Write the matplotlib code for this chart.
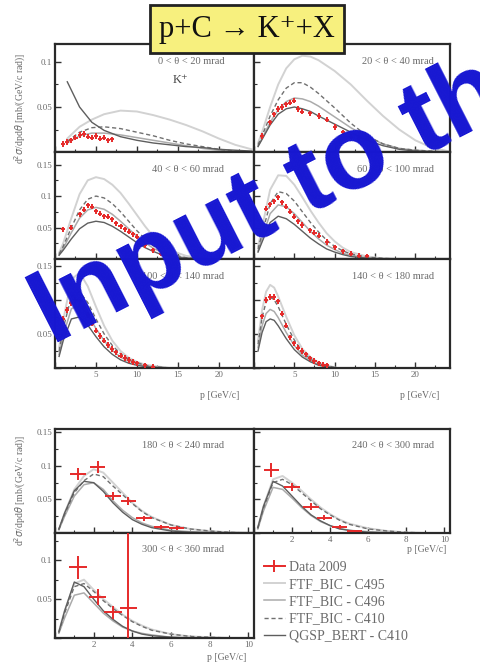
"""
p+C -> K+ + X : momentum spectra in angular bins, data vs. models.
"""
import numpy as np
import matplotlib
matplotlib.use('Agg')
import matplotlib.pyplot as plt
from matplotlib.lines import Line2D
from matplotlib.ticker import MultipleLocator

plt.rcParams['font.family'] = ['Liberation Serif', 'DejaVu Serif']

# ---------------- data ----------------
labels = ['0 < \u03b8 < 20 mrad', '20 < \u03b8 < 40 mrad', '40 < \u03b8 < 60 mrad',
          '60 < \u03b8 < 100 mrad', '100 < \u03b8 < 140 mrad', '140 < \u03b8 < 180 mrad',
          '180 < \u03b8 < 240 mrad', '240 < \u03b8 < 300 mrad', '300 < \u03b8 < 360 mrad']
models = ['FTF_BIC - C495', 'FTF_BIC - C496', 'FTF_BIC - C410', 'QGSP_BERT - C410']

# 0-20 mrad
p1 = [1.5, 3, 4.5, 6, 8, 10, 12, 14, 16, 18, 20, 22, 24]
c495_1 = [0.015, 0.028, 0.036, 0.042, 0.046, 0.045, 0.041, 0.036, 0.030, 0.023, 0.015, 0.008, 0.003]
c496_1 = [0.010, 0.018, 0.021, 0.021, 0.019, 0.016, 0.013, 0.010, 0.007, 0.004, 0.002, 0.001, 0.0]
c410_1 = [0.012, 0.022, 0.027, 0.028, 0.026, 0.022, 0.018, 0.013, 0.009, 0.006, 0.003, 0.001, 0.0]
qgsp_1 = [0.078, 0.050, 0.033, 0.024, 0.017, 0.013, 0.010, 0.008, 0.006, 0.005, 0.003, 0.002, 0.001]
dx1 = [1, 1.5, 2, 2.5, 3, 3.5, 4, 4.5, 5, 5.5, 6, 6.5, 7]
dy1 = [0.009, 0.011, 0.013, 0.016, 0.019, 0.020, 0.017, 0.016, 0.018, 0.015, 0.016, 0.013, 0.014]

# 20-40 mrad
p2 = [0.5, 1, 2, 3, 4, 5, 6, 7, 8, 10, 12, 14, 16, 18, 20, 22, 24]
c495_2 = [0.010, 0.022, 0.050, 0.075, 0.093, 0.103, 0.107, 0.106, 0.102, 0.090, 0.075, 0.057, 0.040, 0.025, 0.013, 0.005, 0.001]
c496_2 = [0.007, 0.015, 0.033, 0.047, 0.056, 0.060, 0.059, 0.056, 0.051, 0.039, 0.027, 0.017, 0.009, 0.004, 0.002, 0.001, 0.0]
c410_2 = [0.008, 0.018, 0.040, 0.058, 0.071, 0.077, 0.077, 0.072, 0.065, 0.049, 0.032, 0.018, 0.009, 0.004, 0.002, 0.001, 0.0]
qgsp_2 = [0.006, 0.014, 0.030, 0.042, 0.048, 0.050, 0.048, 0.045, 0.040, 0.031, 0.022, 0.013, 0.007, 0.003, 0.001, 0.0, 0.0]
dx2 = [1, 2, 2.5, 3, 3.5, 4, 4.5, 5, 5.5, 6, 7, 8, 9, 10, 11, 12, 13, 14]
dy2 = [0.018, 0.033, 0.042, 0.048, 0.050, 0.053, 0.055, 0.057, 0.048, 0.045, 0.043, 0.040, 0.036, 0.028, 0.022, 0.017, 0.016, 0.015]

# 40-60 mrad
p3 = [0.5, 1, 2, 3, 4, 5, 6, 7, 8, 9, 10, 11, 12, 13, 14, 16, 18, 20]
c495_3 = [0.010, 0.025, 0.065, 0.103, 0.125, 0.130, 0.127, 0.118, 0.105, 0.088, 0.070, 0.052, 0.036, 0.023, 0.014, 0.005, 0.001, 0.0]
c496_3 = [0.007, 0.017, 0.042, 0.065, 0.078, 0.082, 0.079, 0.071, 0.060, 0.048, 0.036, 0.026, 0.017, 0.011, 0.006, 0.002, 0.0, 0.0]
c410_3 = [0.008, 0.020, 0.050, 0.078, 0.095, 0.100, 0.097, 0.088, 0.075, 0.060, 0.045, 0.032, 0.021, 0.013, 0.008, 0.002, 0.0, 0.0]
qgsp_3 = [0.006, 0.014, 0.032, 0.048, 0.057, 0.060, 0.058, 0.052, 0.044, 0.035, 0.026, 0.018, 0.012, 0.007, 0.004, 0.001, 0.0, 0.0]
dx3 = [1, 2, 3, 3.5, 4, 4.5, 5, 5.5, 6, 6.5, 7, 7.5, 8, 8.5, 9, 9.5, 10, 11, 12, 13, 14]
dy3 = [0.047, 0.050, 0.071, 0.078, 0.085, 0.083, 0.076, 0.072, 0.068, 0.067, 0.063, 0.057, 0.052, 0.047, 0.043, 0.039, 0.035, 0.022, 0.014, 0.008, 0.004]

# 60-100 mrad
p4 = [0.5, 1, 2, 3, 4, 5, 6, 7, 8, 9, 10, 11, 12, 14, 16, 18]
c495_4 = [0.020, 0.050, 0.110, 0.133, 0.132, 0.118, 0.098, 0.077, 0.058, 0.041, 0.028, 0.018, 0.011, 0.004, 0.001, 0.0]
c496_4 = [0.013, 0.033, 0.072, 0.086, 0.083, 0.072, 0.058, 0.044, 0.032, 0.022, 0.015, 0.009, 0.006, 0.002, 0.0, 0.0]
c410_4 = [0.016, 0.040, 0.088, 0.107, 0.104, 0.092, 0.075, 0.058, 0.043, 0.030, 0.020, 0.013, 0.008, 0.003, 0.001, 0.0]
qgsp_4 = [0.011, 0.027, 0.058, 0.068, 0.064, 0.055, 0.044, 0.033, 0.024, 0.016, 0.011, 0.007, 0.004, 0.001, 0.0, 0.0]
dx4 = [1.5, 2, 2.5, 3, 3.5, 4, 4.5, 5, 5.5, 6, 7, 7.5, 8, 9, 10, 11, 12, 13, 14]
dy4 = [0.080, 0.087, 0.092, 0.098, 0.090, 0.083, 0.075, 0.067, 0.060, 0.054, 0.046, 0.042, 0.037, 0.027, 0.019, 0.012, 0.008, 0.005, 0.004]

# 100-140 mrad
p5 = [0.5, 1, 2, 3, 4, 5, 6, 7, 8, 9, 10, 11, 12, 14]
c495_5 = [0.030, 0.070, 0.130, 0.140, 0.120, 0.090, 0.062, 0.040, 0.025, 0.015, 0.009, 0.005, 0.003, 0.0]
c496_5 = [0.020, 0.048, 0.087, 0.092, 0.078, 0.058, 0.040, 0.026, 0.016, 0.010, 0.006, 0.003, 0.002, 0.0]
c410_5 = [0.025, 0.058, 0.105, 0.112, 0.096, 0.072, 0.050, 0.033, 0.021, 0.013, 0.008, 0.004, 0.002, 0.0]
qgsp_5 = [0.017, 0.040, 0.072, 0.075, 0.063, 0.046, 0.031, 0.020, 0.012, 0.007, 0.004, 0.002, 0.001, 0.0]
dx5 = [1, 1.5, 2, 2.5, 3, 3.5, 4, 4.5, 5, 5.5, 6, 6.5, 7, 7.5, 8, 8.5, 9, 9.5, 10, 11, 12]
dy5 = [0.072, 0.085, 0.095, 0.100, 0.098, 0.090, 0.078, 0.065, 0.055, 0.047, 0.040, 0.034, 0.028, 0.023, 0.018, 0.015, 0.012, 0.009, 0.007, 0.004, 0.002]

# 140-180 mrad
p6 = [0.5, 1, 1.5, 2, 2.5, 3, 4, 5, 6, 7, 8, 9, 10]
c495_6 = [0.040, 0.085, 0.112, 0.122, 0.118, 0.105, 0.075, 0.048, 0.028, 0.016, 0.008, 0.004, 0.001]
c496_6 = [0.030, 0.062, 0.080, 0.086, 0.083, 0.074, 0.052, 0.033, 0.019, 0.011, 0.005, 0.002, 0.0]
c410_6 = [0.035, 0.074, 0.097, 0.104, 0.100, 0.090, 0.064, 0.041, 0.024, 0.013, 0.007, 0.003, 0.001]
qgsp_6 = [0.025, 0.052, 0.068, 0.072, 0.070, 0.062, 0.043, 0.027, 0.016, 0.009, 0.004, 0.002, 0.0]
dx6 = [1, 1.5, 2, 2.5, 3, 3.5, 4, 4.5, 5, 5.5, 6, 6.5, 7, 7.5, 8, 8.5, 9]
dy6 = [0.076, 0.100, 0.104, 0.104, 0.098, 0.080, 0.062, 0.045, 0.036, 0.030, 0.025, 0.020, 0.014, 0.010, 0.007, 0.005, 0.004]

# 180-240 mrad
pb = [0.2, 0.5, 1, 1.5, 2, 2.5, 3, 3.5, 4, 4.5, 5, 6, 7, 8, 9, 10]
c495_7 = [0.005, 0.030, 0.065, 0.085, 0.095, 0.090, 0.075, 0.060, 0.045, 0.033, 0.024, 0.012, 0.006, 0.003, 0.001, 0.0]
c496_7 = [0.005, 0.025, 0.055, 0.072, 0.075, 0.065, 0.048, 0.034, 0.023, 0.015, 0.010, 0.004, 0.002, 0.001, 0.0, 0.0]
c410_7 = [0.005, 0.028, 0.060, 0.078, 0.088, 0.084, 0.070, 0.057, 0.044, 0.032, 0.023, 0.012, 0.006, 0.003, 0.001, 0.0]
qgsp_7 = [0.006, 0.030, 0.063, 0.077, 0.075, 0.062, 0.045, 0.031, 0.020, 0.013, 0.008, 0.003, 0.001, 0.0, 0.0, 0.0]
dx7 = [1.2, 2.2, 3.0, 3.8, 4.6, 5.5, 6.3]
dy7 = [0.088, 0.098, 0.055, 0.048, 0.022, 0.009, 0.007]
de7 = [0.009, 0.009, 0.006, 0.006, 0.004, 0.003, 0.003]

# 240-300 mrad
c495_8 = [0.008, 0.040, 0.080, 0.085, 0.075, 0.063, 0.050, 0.038, 0.028, 0.020, 0.014, 0.007, 0.003, 0.001, 0.0, 0.0]
c496_8 = [0.006, 0.033, 0.068, 0.065, 0.052, 0.038, 0.026, 0.017, 0.011, 0.007, 0.004, 0.002, 0.001, 0.0, 0.0, 0.0]
c410_8 = [0.007, 0.037, 0.075, 0.080, 0.072, 0.060, 0.048, 0.036, 0.027, 0.019, 0.013, 0.006, 0.003, 0.001, 0.0, 0.0]
qgsp_8 = [0.008, 0.040, 0.077, 0.070, 0.055, 0.040, 0.027, 0.018, 0.011, 0.006, 0.004, 0.001, 0.0, 0.0, 0.0, 0.0]
dx8 = [0.9, 2.0, 3.0, 3.7, 4.5, 5.3]
dy8 = [0.094, 0.068, 0.039, 0.023, 0.009, 0.003]
de8 = [0.010, 0.006, 0.005, 0.004, 0.003, 0.002]

# 300-360 mrad
c495_9 = [0.008, 0.035, 0.070, 0.075, 0.062, 0.050, 0.040, 0.030, 0.022, 0.016, 0.011, 0.005, 0.002, 0.001, 0.0, 0.0]
c496_9 = [0.006, 0.026, 0.055, 0.058, 0.045, 0.032, 0.022, 0.014, 0.009, 0.006, 0.004, 0.001, 0.0, 0.0, 0.0, 0.0]
c410_9 = [0.007, 0.032, 0.066, 0.070, 0.060, 0.048, 0.038, 0.029, 0.021, 0.015, 0.010, 0.005, 0.002, 0.001, 0.0, 0.0]
qgsp_9 = [0.008, 0.035, 0.072, 0.066, 0.050, 0.035, 0.024, 0.015, 0.009, 0.005, 0.003, 0.001, 0.0, 0.0, 0.0, 0.0]
dx9 = [1.2, 2.2, 3.0, 3.8]
dy9 = [0.091, 0.053, 0.033, 0.038]
de9 = [0.015, 0.010, 0.008, 0.100]

# ---------------- styles ----------------
RED = '#e62a2a'
TXT = '#6a6a6a'
model_style = [dict(color='#d2d2d2', lw=1.4, ls='-'),
               dict(color='#ababab', lw=1.1, ls='-'),
               dict(color='#707070', lw=1.0, ls=(0, (3, 2))),
               dict(color='#5e5e5e', lw=1.0, ls='-')]

W, H = 481, 670
fig = plt.figure(figsize=(W / 100, H / 100), dpi=100)
fig.patch.set_facecolor('white')


def rect(x0, y0, x1, y1):
    return [x0 / W, 1 - y1 / H, (x1 - x0) / W, (y1 - y0) / H]


def panel(r, grid, curves, dx, dy, xerr, yerr, label, xlim, ylim,
          xmaj, xmin, ymaj, ymin, showx, showy, tx):
    ax = fig.add_axes(r)
    for y, st in zip(curves, model_style):
        ax.plot(grid, y, **st)
    ax.errorbar(dx, dy, xerr=xerr, yerr=yerr, fmt='none', ecolor=RED,
                elinewidth=1.4, capsize=0, zorder=5)
    ax.set_xlim(*xlim)
    ax.set_ylim(*ylim)
    ax.xaxis.set_major_locator(MultipleLocator(xmaj))
    ax.xaxis.set_minor_locator(MultipleLocator(xmin))
    ax.yaxis.set_major_locator(MultipleLocator(ymaj))
    ax.yaxis.set_minor_locator(MultipleLocator(ymin))
    ax.tick_params(which='both', direction='in', colors='#333333',
                   labelcolor=TXT, labelsize=6.5, pad=2)
    ax.tick_params(which='major', length=4, width=1.0)
    ax.tick_params(which='minor', length=2.5, width=0.8)
    ax.tick_params(axis='x', labelbottom=showx)
    ax.tick_params(axis='y', labelleft=showy)
    ax.yaxis.set_major_formatter(plt.FuncFormatter(
        lambda v, _: '' if v <= 0 else ('%g' % round(v, 3))))
    ax.xaxis.set_major_formatter(plt.FuncFormatter(
        lambda v, _: '' if v <= 0 else ('%g' % v)))
    for s in ax.spines.values():
        s.set_linewidth(1.6)
        s.set_color('#2a2a2a')
    ax.text(tx, 0.84, label, transform=ax.transAxes, ha='right', va='center',
            fontsize=7.5, color=TXT)
    return ax


top_x = (0, 24.3)
bot_x = (0, 10.3)

# top block: 3 rows x 2 columns
ax1 = panel(rect(55, 44, 254, 152), p1, [c495_1, c496_1, c410_1, qgsp_1], dx1, dy1,
            0.25, 0.003, labels[0], top_x, (0, 0.12), 5, 2.5, 0.05, 0.025, False, True, 0.85)
ax1.text(0.63, 0.67, 'K\u207a', transform=ax1.transAxes, ha='center', va='center',
         fontsize=9, color='#444444')
panel(rect(254, 44, 450, 152), p2, [c495_2, c496_2, c410_2, qgsp_2], dx2, dy2,
      0.25, 0.003, labels[1], top_x, (0, 0.12), 5, 2.5, 0.05, 0.025, False, False, 0.92)
panel(rect(55, 152, 254, 259), p3, [c495_3, c496_3, c410_3, qgsp_3], dx3, dy3,
      0.25, 0.004, labels[2], top_x, (0, 0.17), 5, 2.5, 0.05, 0.025, False, True, 0.85)
panel(rect(254, 152, 450, 259), p4, [c495_4, c496_4, c410_4, qgsp_4], dx4, dy4,
      0.25, 0.004, labels[3], top_x, (0, 0.17), 5, 2.5, 0.05, 0.025, False, False, 0.92)
panel(rect(55, 259, 254, 368), p5, [c495_5, c496_5, c410_5, qgsp_5], dx5, dy5,
      0.25, 0.004, labels[4], top_x, (0, 0.16), 5, 2.5, 0.05, 0.025, True, True, 0.85)
panel(rect(254, 259, 450, 368), p6, [c495_6, c496_6, c410_6, qgsp_6], dx6, dy6,
      0.25, 0.004, labels[5], top_x, (0, 0.16), 5, 2.5, 0.05, 0.025, True, False, 0.92)

# bottom block
panel(rect(55, 429, 254, 533), pb, [c495_7, c496_7, c410_7, qgsp_7], dx7, dy7,
      0.4, de7, labels[6], bot_x, (0, 0.155), 2, 1, 0.05, 0.025, False, True, 0.85)
panel(rect(254, 429, 450, 533), pb, [c495_8, c496_8, c410_8, qgsp_8], dx8, dy8,
      0.4, de8, labels[7], bot_x, (0, 0.155), 2, 1, 0.05, 0.025, True, False, 0.92)
panel(rect(55, 533, 254, 638), pb, [c495_9, c496_9, c410_9, qgsp_9], dx9, dy9,
      0.45, de9, labels[8], bot_x, (0, 0.135), 2, 1, 0.05, 0.025, True, True, 0.85)

# axis titles
for xx, yy in [(220, 395), (420, 395), (427, 550), (227, 657)]:
    fig.text(xx / W, 1 - yy / H, 'p [GeV/c]', ha='center', va='center',
             fontsize=7, color=TXT)
ylab = r'd$^2\sigma$/dpd$\theta$ [mb/(GeV/c rad)]'
for yy in [108, 490]:
    fig.text(20 / W, 1 - yy / H, ylab, rotation=90, ha='center', va='center',
             fontsize=7, color=TXT)

# legend
handles = [Line2D([], [], color=RED, lw=1.4, marker='+', markersize=9, mew=1.4)]
handles += [Line2D([], [], **st) for st in model_style]
fig.legend(handles, ['Data 2009'] + models, loc='upper left',
           bbox_to_anchor=(264 / W, 1 - 561 / H), frameon=False,
           prop={'size': 10}, handlelength=1.5, handletextpad=0.3,
           labelspacing=0.3, borderaxespad=0, borderpad=0, labelcolor=TXT)

# title box
fig.text(247 / W, 1 - 29 / H, 'p+C \u2192 K\u207a+X', ha='center', va='center',
         fontsize=22, color='#111111',
         bbox=dict(boxstyle='square,pad=0.3', fc='#f7f07e', ec='#222222', lw=2))

# overlaid watermark text
fig.text(52 / W, 1 - 345 / H, 'Input to the', rotation=27, rotation_mode='anchor',
         ha='left', va='baseline', fontsize=76, fontweight='bold',
         family=['Liberation Sans', 'DejaVu Sans'], color='#1717d2', zorder=20)

fig.savefig('out.png', dpi=100)
